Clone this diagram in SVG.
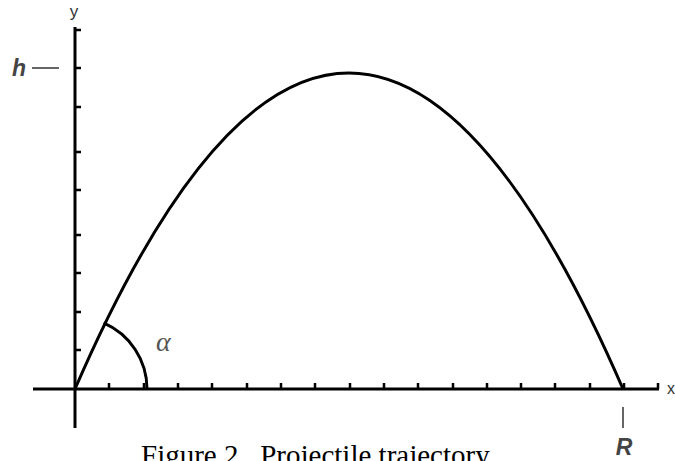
<svg xmlns="http://www.w3.org/2000/svg" width="675" height="461" viewBox="0 0 675 461">
<style>
.axis{stroke:#000;stroke-width:3;fill:none}
.tick{stroke:#000;stroke-width:2.5;fill:none}
.curve{stroke:#000;stroke-width:3;fill:none;stroke-linejoin:round}
.mark{stroke:#333;stroke-width:1.5;fill:none}
.lbl{font-family:"Liberation Sans",Arial,sans-serif;fill:#333}
.bi{font-family:"Liberation Sans",Arial,sans-serif;font-weight:bold;font-style:italic;fill:#444}
.cap{font-family:"Liberation Serif","Times New Roman",serif;fill:#000}
</style>
<rect width="675" height="461" fill="#fff"/>
<g id="axes">
<line class="axis" x1="75" y1="27" x2="75" y2="428"/>
<line class="axis" x1="33" y1="389" x2="659" y2="389"/>
<path class="tick" d="M75,30h6M75,68h6M75,107h6M75,152h6M75,190h6M75,235h6M75,273h6M75,312h6M75,350h6"/>
<path class="tick" d="M109,389v-6M144,389v-6M178,389v-6M212,389v-6M247,389v-6M281,389v-6M315,389v-6M350,389v-6M384,389v-6M418,389v-6M453,389v-6M487,389v-6M521,389v-6M555,389v-6M590,389v-6M624,389v-6M658,389v-6"/>
<text class="lbl" x="74" y="17" font-size="17" text-anchor="middle">y</text>
<text class="lbl" x="667" y="394" font-size="16">x</text>
</g>
<g id="h-mark">
<text class="bi" x="12" y="76" font-size="23">h</text>
<line class="mark" x1="32" y1="68" x2="59" y2="68"/>
</g>
<g id="r-mark">
<line class="mark" x1="623" y1="407" x2="623" y2="428"/>
<text class="bi" x="624" y="455" font-size="23" text-anchor="middle">R</text>
</g>
<g id="trajectory">
<path class="curve" d="M75,389 Q349,-243 623,389"/>
</g>
<g id="angle">
<path class="curve" d="M103.6,322.9 A72,72 0 0 1 147,389"/>
<text x="156" y="351" font-size="28" font-style="italic" fill="#555" font-family="'Liberation Serif','Times New Roman',serif">α</text>
</g>
<g id="caption">
<text class="cap" x="141" y="465" font-size="29" xml:space="preserve">Figure 2.  Projectile trajectory</text>
</g>
</svg>
